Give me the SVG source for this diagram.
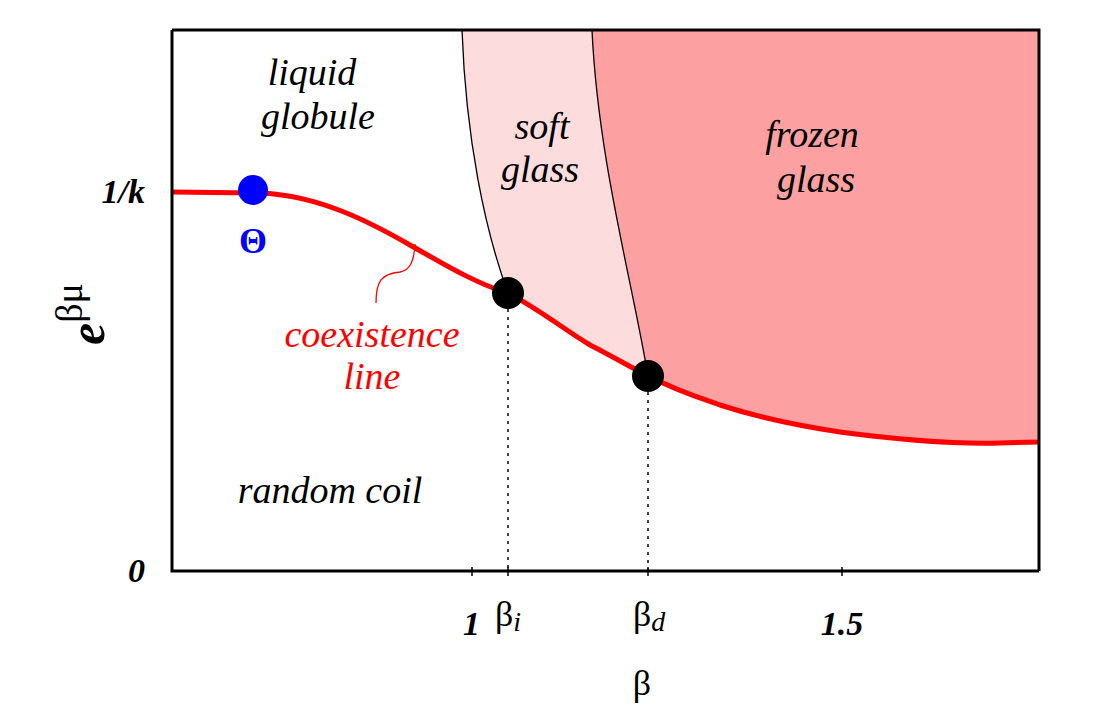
<svg xmlns="http://www.w3.org/2000/svg" width="1107" height="721" viewBox="0 0 1107 721">
<style>
.lab{font-family:"Liberation Serif","DejaVu Serif",serif;font-style:italic;font-size:38px;fill:#000}
.tick{font-family:"Liberation Serif","DejaVu Serif",serif;font-style:italic;font-weight:bold;font-size:34px}
.sym{font-family:"Liberation Serif","DejaVu Serif",serif;font-size:36px}
</style>
<rect width="1107" height="721" fill="#fff"/>
<path d="M462,30 C466,140 485,230 508,293 C540,310 565,330 590,345 C612,356 630,367 648,376 C632,280 598,160 592,30 Z" fill="#fddcdd"/>
<path d="M592,30 C598,160 632,280 648,376 C680,392 700,398 720,405 C760,418 800,426 840,432 C900,440 960,444 1000,443 L1039,442 L1039,30 Z" fill="#fda0a1"/>
<path d="M462,30 C466,140 485,230 508,293" fill="none" stroke="#000" stroke-width="1.3"/>
<path d="M592,30 C598,160 632,280 648,376" fill="none" stroke="#000" stroke-width="1.3"/>
<path d="M172,192 L262,193 C320,196 370,222 410,245 C450,268 480,285 508,293 C540,310 565,330 590,345 C612,356 630,367 648,376 C680,392 700,398 720,405 C760,418 800,426 840,432 C900,440 960,444 1000,443 L1039,442" fill="none" stroke="#f00" stroke-width="5"/>
<path d="M172,30 L1039,30 L1039,571 M172,30 L172,571 L1039,571" fill="none" stroke="#000" stroke-width="3"/>
<path d="M472,567 V576 M842,567 V576 M508,567 V576 M648,567 V576" stroke="#000" stroke-width="1.5"/>
<path d="M508,293 V571 M648,376 V571" stroke="#000" stroke-width="1.5" stroke-dasharray="3,5"/>
<path d="M415,244 C414,262 410,270 400,272 C382,274 376,280 376,303" fill="none" stroke="#f00" stroke-width="1.3"/>
<circle cx="253" cy="190" r="15" fill="#00f"/>
<circle cx="508" cy="293" r="16" fill="#000"/>
<circle cx="648" cy="376" r="16" fill="#000"/>
<text class="lab" x="312" y="85" text-anchor="middle">liquid</text>
<text class="lab" x="318" y="129" text-anchor="middle">globule</text>
<text class="lab" x="542" y="139" text-anchor="middle">soft</text>
<text class="lab" x="540" y="182" text-anchor="middle">glass</text>
<text class="lab" x="812" y="147" text-anchor="middle">frozen</text>
<text class="lab" x="816" y="192" text-anchor="middle">glass</text>
<text class="lab" x="372" y="347" text-anchor="middle" style="fill:#f00">coexistence</text>
<text class="lab" x="372" y="389" text-anchor="middle" style="fill:#f00">line</text>
<text class="lab" x="330" y="503" text-anchor="middle">random coil</text>
<text class="sym" x="253" y="253" text-anchor="middle" font-weight="bold" fill="#00f" font-size="30">Θ</text>
<text class="tick" x="145" y="203" text-anchor="end">1/k</text>
<text class="tick" x="145" y="582" text-anchor="end">0</text>
<text class="tick" x="480" y="635" text-anchor="end">1</text>
<text class="tick" x="842" y="635" text-anchor="middle">1.5</text>
<text class="sym" x="495" y="626">β<tspan font-style="italic" font-size="28" dy="5">i</tspan></text>
<text class="sym" x="633" y="626">β<tspan font-style="italic" font-size="28" dy="5">d</tspan></text>
<text class="sym" x="642" y="695" text-anchor="middle" font-size="46">β</text>
<text transform="translate(104,345) rotate(-90)" font-family="'Liberation Serif','DejaVu Serif',serif" font-size="50"><tspan font-style="italic" font-weight="bold">e</tspan><tspan font-size="38" dy="-22">βμ</tspan></text>
</svg>
